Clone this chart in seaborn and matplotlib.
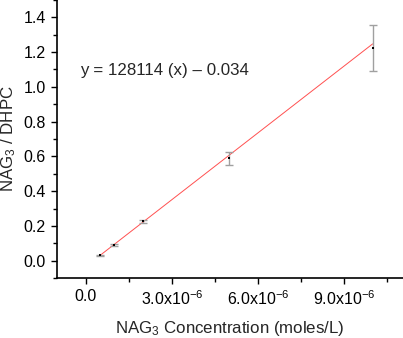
import matplotlib
matplotlib.use("Agg")
import matplotlib.pyplot as plt
import seaborn as sns
import numpy as np
import pandas as pd
from matplotlib.ticker import FixedLocator, FixedFormatter

conc = [0.5e-6, 1.0e-6, 2.0e-6, 5.0e-6, 1.0e-5]
ratio = [0.030, 0.090, 0.226, 0.590, 1.222]
err = [0.004, 0.006, 0.010, 0.037, 0.132]
slope = 128114
intercept = -0.034
xticks = [0.0, 3.0e-6, 6.0e-6, 9.0e-6]
xticklabels = ["0.0", "3.0x10$^{-6}$", "6.0x10$^{-6}$", "9.0x10$^{-6}$"]
yticks = [0.0, 0.2, 0.4, 0.6, 0.8, 1.0, 1.2, 1.4]

sns.set_theme(style="ticks")
plt.rcParams['font.family'] = ['Liberation Sans', 'DejaVu Sans']
plt.rcParams['mathtext.fontset'] = 'custom'
plt.rcParams['mathtext.rm'] = 'Liberation Sans'
plt.rcParams['mathtext.it'] = 'Liberation Sans'

fig = plt.figure(figsize=(4.03, 3.38), dpi=100)
ax = fig.add_axes([57/403, 60/338, 1 - 57/403, 1 - 60/338])

fit_x = np.array([conc[0], conc[-1]])
fit_df = pd.DataFrame({"x": fit_x, "y": slope * fit_x + intercept})
sns.lineplot(data=fit_df, x="x", y="y", ax=ax, color="#ff5050", linewidth=0.7)

ax.errorbar(conc, ratio, yerr=err, fmt="none", ecolor="#a0a0a0", elinewidth=1.0,
            capsize=3, capthick=1.0)
df = pd.DataFrame({"x": conc, "y": ratio})
sns.scatterplot(data=df, x="x", y="y", ax=ax, color="black", marker="s", s=4,
                edgecolor="black", linewidth=0, zorder=5)

ax.set_xlim(-1.0e-6, 11.06e-6)
ax.set_ylim(-0.1, 1.5)
ax.xaxis.set_major_locator(FixedLocator(xticks))
ax.xaxis.set_major_formatter(FixedFormatter(xticklabels))
ax.xaxis.set_minor_locator(FixedLocator([1.5e-6, 4.5e-6, 7.5e-6, 10.5e-6]))
ax.yaxis.set_major_locator(FixedLocator(yticks))
ax.yaxis.set_minor_locator(FixedLocator([v + 0.1 for v in [-0.2] + yticks]))
ax.set_yticklabels([f"{v:.1f}" for v in yticks])

for s in ["top", "right"]:
    ax.spines[s].set_visible(False)
for s in ["left", "bottom"]:
    ax.spines[s].set_linewidth(1.2)
    ax.spines[s].set_color("black")
ax.tick_params(axis="both", which="major", direction="out", length=4, width=1,
               labelsize=11.5, colors="black", pad=4)
ax.tick_params(axis="both", which="minor", direction="out", length=3, width=1, colors="black")

ax.set_xlabel("NAG$_3$ Concentration (moles/L)", fontsize=12.2, labelpad=8)
ax.set_ylabel("NAG$_3$ / DHPC", fontsize=12.2, labelpad=4)

ax.text(-0.2e-6, 1.094, "y = 128114 (x) \u2013 0.034", fontsize=12.2, va="center", ha="left")

fig.savefig("out.png", dpi=100)
